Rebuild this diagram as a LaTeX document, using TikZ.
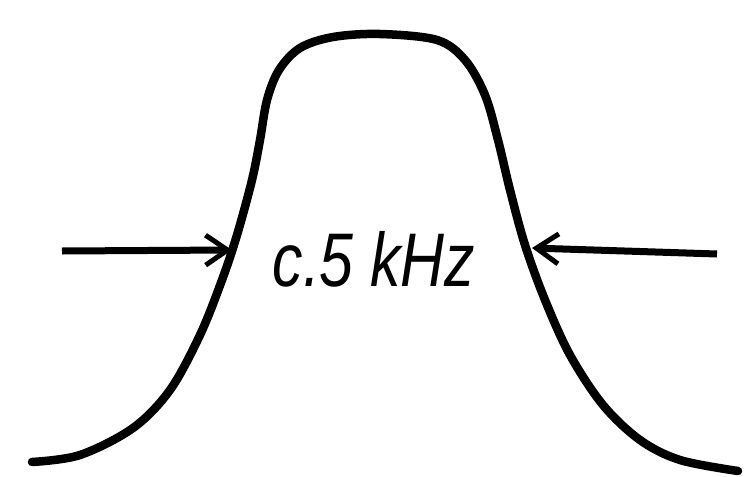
\documentclass[tikz,border=0pt]{standalone}
\usepackage{fontspec}
\setmainfont{Liberation Sans}
\usetikzlibrary{arrows.meta}
\tikzset{
  curveline/.style={line width=8.5pt, line cap=round, line join=round},
  arrline/.style={line width=7pt, -{Straight Barb[length=22pt, width=30pt, line width=5pt]}},
  lbl/.style={font=\itshape\fontsize{76}{76}\selectfont, inner sep=0pt, xscale=0.8}
}
\begin{document}
\begin{tikzpicture}[x=1pt,y=-1pt]
\useasboundingbox (0,0) rectangle (745,477);
\draw[curveline] plot[smooth, tension=0.55] coordinates {
  (32,462) (80,455) (133,428) (170,390) (200,335) (222,280) (237,235)
  (252,180) (260,140) (267,100) (279,70) (300,48) (333,37) (380,34)
  (437,40) (465,60) (485,95) (498,140) (510,190) (525,245) (545,300)
  (570,355) (603,405) (640,440) (680,460) (738,471)};
\coordinate (la) at (62,251);
\coordinate (lb) at (232,250);
\coordinate (ra) at (717,254);
\coordinate (rb) at (532,248);
\draw[arrline] (la) -- (lb);
\draw[arrline] (ra) -- (rb);
\node[lbl] (t) at (374,259) {c.5 kHz};
\end{tikzpicture}
\end{document}
